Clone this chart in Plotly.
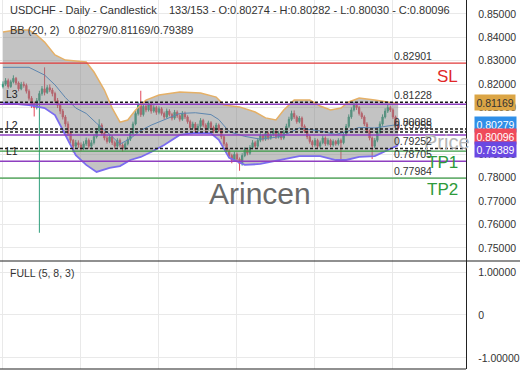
import plotly.graph_objects as go

# ---------------- data ----------------
bars = list(range(153))
open_ = [0.8190,0.8200,0.8215,0.8190,0.8210,0.8225,0.8205,0.8180,0.8200,0.8195,
 0.8170,0.8140,0.8115,0.8100,0.8130,0.8160,0.8180,0.8165,0.8185,0.8175,
 0.8160,0.8130,0.8110,0.8085,0.8060,0.8030,0.7990,0.7960,0.7935,0.7950,
 0.7940,0.7925,0.7945,0.7960,0.7935,0.7950,0.7975,0.8000,0.8025,0.7990,
 0.7970,0.7955,0.7975,0.7950,0.7935,0.7960,0.7940,0.7925,0.7945,0.7965,
 0.7990,0.8030,0.8075,0.8110,0.8070,0.8105,0.8090,0.8115,0.8085,0.8100,
 0.8080,0.8095,0.8075,0.8060,0.8085,0.8070,0.8055,0.8080,0.8065,0.8050,
 0.8075,0.8060,0.8040,0.8015,0.8030,0.8005,0.8020,0.8045,0.8025,0.8010,
 0.8035,0.8015,0.8000,0.8025,0.8005,0.7975,0.7945,0.7915,0.7895,0.7875,
 0.7900,0.7880,0.7860,0.7895,0.7920,0.7905,0.7930,0.7950,0.7935,0.7960,
 0.7980,0.7965,0.7990,0.7970,0.7985,0.8000,0.7975,0.7990,0.7970,0.7995,
 0.8020,0.8050,0.8075,0.8060,0.8040,0.8055,0.8020,0.8000,0.7975,0.7955,
 0.7940,0.7960,0.7935,0.7950,0.7970,0.7945,0.7960,0.7940,0.7955,0.7945,
 0.7960,0.7950,0.7985,0.8020,0.8060,0.8090,0.8110,0.8100,0.8075,0.8060,
 0.8030,0.8000,0.7970,0.7935,0.7960,0.7995,0.8030,0.8060,0.8085,0.8100,
 0.8090,0.8060,0.80274]
high = [0.8212,0.8226,0.8224,0.8219,0.8238,0.8231,0.8212,0.8210,0.8211,0.8203,
 0.8178,0.8149,0.8125,0.8141,0.8172,0.8192,0.8272,0.8196,0.8199,0.8184,
 0.8168,0.8141,0.8118,0.8094,0.8068,0.8041,0.7998,0.7966,0.7962,0.7960,
 0.7951,0.7956,0.7972,0.7968,0.7961,0.7986,0.8012,0.8050,0.8033,0.7998,
 0.7981,0.7985,0.7983,0.7959,0.7969,0.7968,0.7948,0.7954,0.7975,0.7999,
 0.8040,0.8088,0.8125,0.8172,0.8116,0.8114,0.8126,0.8122,0.8110,0.8108,
 0.8105,0.8102,0.8083,0.8096,0.8093,0.8078,0.8090,0.8088,0.8072,0.8085,
 0.8083,0.8067,0.8048,0.8040,0.8038,0.8031,0.8055,0.8052,0.8033,0.8044,
 0.8042,0.8023,0.8035,0.8032,0.8012,0.7983,0.7952,0.7924,0.7903,0.7911,
 0.7908,0.7887,0.7905,0.7930,0.7928,0.7940,0.7961,0.7958,0.7970,0.7991,
 0.7988,0.7999,0.7997,0.7995,0.8011,0.8007,0.7999,0.7997,0.8004,0.8031,
 0.8061,0.8087,0.8088,0.8067,0.8064,0.8062,0.8028,0.8007,0.7983,0.7962,
 0.7970,0.7967,0.7959,0.7980,0.7977,0.7969,0.7967,0.7964,0.7962,0.7969,
 0.7968,0.7995,0.8030,0.8071,0.8101,0.8123,0.8118,0.8107,0.8083,0.8067,
 0.8038,0.8007,0.7977,0.7970,0.8005,0.8041,0.8071,0.8097,0.8113,0.8108,
 0.8097,0.8066,0.80282]
low = [0.8182,0.8193,0.8181,0.8184,0.8203,0.8196,0.8170,0.8174,0.8185,0.8160,
 0.8130,0.8098,0.8062,0.8092,0.7565,0.8151,0.8152,0.8158,0.8166,0.8148,
 0.8121,0.8098,0.8072,0.8049,0.8018,0.7978,0.7948,0.7908,0.7925,0.7928,
 0.7915,0.7918,0.7936,0.7924,0.7927,0.7942,0.7968,0.7992,0.7981,0.7960,
 0.7946,0.7948,0.7940,0.7924,0.7929,0.7930,0.7912,0.7918,0.7938,0.7957,
 0.7983,0.8024,0.8066,0.8060,0.8062,0.8080,0.8083,0.8074,0.8078,0.8069,
 0.8071,0.8066,0.8050,0.8054,0.8062,0.8045,0.8048,0.8056,0.8040,0.8043,
 0.8051,0.8031,0.8005,0.8008,0.7994,0.7998,0.8013,0.8016,0.8000,0.8003,
 0.8006,0.7990,0.7993,0.7996,0.7965,0.7935,0.7904,0.7884,0.7862,0.7868,
 0.7869,0.7830,0.7852,0.7888,0.7896,0.7898,0.7922,0.7926,0.7928,0.7952,
 0.7956,0.7958,0.7961,0.7963,0.7977,0.7966,0.7968,0.7961,0.7963,0.7988,
 0.8012,0.8043,0.8051,0.8031,0.8033,0.8011,0.7991,0.7965,0.7946,0.7930,
 0.7933,0.7925,0.7927,0.7943,0.7936,0.7938,0.7931,0.7933,0.7937,0.7938,
 0.7875,0.7943,0.7978,0.8013,0.8052,0.8083,0.8090,0.8066,0.8051,0.8021,
 0.7990,0.7960,0.7880,0.7927,0.7952,0.7988,0.8022,0.8053,0.8077,0.8081,
 0.8051,0.8018,0.80030]
close = [0.8200,0.8215,0.8190,0.8210,0.8225,0.8205,0.8180,0.8200,0.8195,0.8170,
 0.8140,0.8115,0.8100,0.8130,0.8160,0.8180,0.8165,0.8185,0.8175,0.8160,
 0.8130,0.8110,0.8085,0.8060,0.8030,0.7990,0.7960,0.7935,0.7950,0.7940,
 0.7925,0.7945,0.7960,0.7935,0.7950,0.7975,0.8000,0.8025,0.7990,0.7970,
 0.7955,0.7975,0.7950,0.7935,0.7960,0.7940,0.7925,0.7945,0.7965,0.7990,
 0.8030,0.8075,0.8110,0.8070,0.8105,0.8090,0.8115,0.8085,0.8100,0.8080,
 0.8095,0.8075,0.8060,0.8085,0.8070,0.8055,0.8080,0.8065,0.8050,0.8075,
 0.8060,0.8040,0.8015,0.8030,0.8005,0.8020,0.8045,0.8025,0.8010,0.8035,
 0.8015,0.8000,0.8025,0.8005,0.7975,0.7945,0.7915,0.7895,0.7875,0.7900,
 0.7880,0.7860,0.7895,0.7920,0.7905,0.7930,0.7950,0.7935,0.7960,0.7980,
 0.7965,0.7990,0.7970,0.7985,0.8000,0.7975,0.7990,0.7970,0.7995,0.8020,
 0.8050,0.8075,0.8060,0.8040,0.8055,0.8020,0.8000,0.7975,0.7955,0.7940,
 0.7960,0.7935,0.7950,0.7970,0.7945,0.7960,0.7940,0.7955,0.7945,0.7960,
 0.7950,0.7985,0.8020,0.8060,0.8090,0.8110,0.8100,0.8075,0.8060,0.8030,
 0.8000,0.7970,0.7935,0.7960,0.7995,0.8030,0.8060,0.8085,0.8100,0.8090,
 0.8060,0.8027,0.80096]

bb_upper_bar = [0, 5, 10, 13, 16, 20, 24, 28, 32, 35, 39, 42, 45, 48, 51, 55, 60, 68, 76, 82,
                85, 91, 97, 101, 105, 108, 112, 118, 122, 126, 130, 133, 137, 143, 152]
bb_upper = [0.8423, 0.8432, 0.8432, 0.8410, 0.8380, 0.8325, 0.8303, 0.8299, 0.8295, 0.8252,
            0.8175, 0.8098, 0.8038, 0.8047, 0.8090, 0.8132, 0.8154, 0.8167, 0.8162, 0.8145,
            0.8111, 0.8103, 0.8081, 0.8056, 0.8047, 0.8090, 0.8132, 0.8132, 0.8107, 0.8090,
            0.8098, 0.8124, 0.8141, 0.8132, 0.81169]
bb_lower_bar = [0, 10, 16, 20, 24, 28, 32, 36, 41, 45, 49, 53, 57, 62, 68, 74, 80, 83, 87, 93,
                99, 107, 114, 122, 128, 132, 137, 143, 152]
bb_lower = [0.8120, 0.8111, 0.8098, 0.8068, 0.7983, 0.7897, 0.7855, 0.7825, 0.7842, 0.7850,
            0.7876, 0.7889, 0.7910, 0.7940, 0.7983, 0.7992, 0.7990, 0.7962, 0.7885, 0.7855,
            0.7859, 0.7876, 0.7893, 0.7893, 0.7876, 0.7876, 0.7889, 0.7893, 0.79389]
bb_mid_bar = bb_lower_bar
bb_mid = [0.8272, 0.8272, 0.8239, 0.8197, 0.8143, 0.8098, 0.8075, 0.8033, 0.7986, 0.7944,
          0.7968, 0.8002, 0.8025, 0.8049, 0.8075, 0.8078, 0.8070, 0.8049, 0.7997, 0.7977,
          0.7965, 0.7976, 0.8013, 0.8000, 0.7985, 0.7997, 0.8015, 0.8013, 0.80279]

level_values = [0.82901, 0.81228, 0.80088, 0.79955, 0.79252, 0.78705, 0.77984]
dashed_levels = [0.81228, 0.80088, 0.79955, 0.79252]
pivot_names = ["L3", "L2", "L1"]
pivot_levels = [0.8114, 0.7983, 0.78705]
sl_level = 0.82901
tp_names = ["TP1", "TP2"]
tp_levels = [0.7914, 0.77984]

price_ticks = [0.75, 0.76, 0.77, 0.78, 0.79, 0.80, 0.81, 0.82, 0.83, 0.84, 0.85]
osc_ticks = [-1, 0, 1]
osc_ticktext = ["-1.00000", "0", "1.00000"]
grid_bars = [0, 30, 60, 90, 120, 150]

last_values = [0.81169, 0.80279, 0.80096, 0.79389]   # BB upper, BB mid, close, BB lower

header1 = "USDCHF - Daily - Candlestick    133/153 - O:0.80274 - H:0.80282 - L:0.80030 - C:0.80096"
header2 = "BB (20, 2)   0.80279/0.81169/0.79389"
osc_title = "FULL (5, 8, 3)"

# ---------------- figure ----------------
FONT = "Liberation Sans, Arial, sans-serif"
fig = go.Figure()

# BB band fill
fig.add_trace(go.Scatter(
    x=bb_upper_bar + bb_lower_bar[::-1], y=bb_upper + bb_lower[::-1],
    fill="toself", fillcolor="rgba(130,130,130,0.48)", mode="none",
    hoverinfo="skip", showlegend=False, xaxis="x", yaxis="y"))
fig.add_trace(go.Scatter(x=bb_mid_bar, y=bb_mid, mode="lines",
                         line=dict(color="#5d86b0", width=1), showlegend=False,
                         hoverinfo="skip", xaxis="x", yaxis="y"))
fig.add_trace(go.Scatter(x=bb_upper_bar, y=bb_upper, mode="lines",
                         line=dict(color="#e5b067", width=1.5), showlegend=False,
                         hoverinfo="skip", xaxis="x", yaxis="y"))
fig.add_trace(go.Scatter(x=bb_lower_bar, y=bb_lower, mode="lines",
                         line=dict(color="#7b6cf0", width=1.8), showlegend=False,
                         hoverinfo="skip", xaxis="x", yaxis="y"))

fig.add_trace(go.Candlestick(
    x=bars, open=open_, high=high, low=low, close=close,
    increasing=dict(line=dict(color="#2f9f7d", width=1), fillcolor="#2f9f7d"),
    decreasing=dict(line=dict(color="#e2485a", width=1), fillcolor="#e2485a"),
    whiskerwidth=0, showlegend=False, xaxis="x", yaxis="y"))

# empty oscillator panel
fig.add_trace(go.Scatter(x=[None], y=[None], mode="lines", showlegend=False,
                         xaxis="x2", yaxis="y2"))

shapes = []
shapes.append(dict(type="line", xref="paper", x0=0, x1=1, yref="y", y0=sl_level, y1=sl_level,
                   line=dict(color="#e03a3a", width=1.2)))
for v in dashed_levels:
    shapes.append(dict(type="line", xref="paper", x0=0, x1=1, yref="y", y0=v, y1=v,
                       line=dict(color="#1a1a1a", width=1.5, dash="3px,2px")))
for v in pivot_levels:
    shapes.append(dict(type="line", xref="paper", x0=0, x1=1, yref="y", y0=v, y1=v,
                       line=dict(color="#8e3fc0", width=1.5)))
for v in tp_levels:
    shapes.append(dict(type="line", xref="paper", x0=0, x1=1, yref="y", y0=v, y1=v,
                       line=dict(color="#3a9a45", width=1.3)))
# panel separator / box
shapes.append(dict(type="line", xref="paper", x0=0, x1=1.116, yref="paper", y0=0.2927, y1=0.2927,
                   line=dict(color="#222", width=1.2)))
shapes.append(dict(type="line", xref="paper", x0=0, x1=1, yref="paper", y0=0, y1=0,
                   line=dict(color="#222", width=1.2)))

ann = []
ann.append(dict(xref="paper", yref="paper", x=0.017, y=0.973, text=header1, showarrow=False,
                xanchor="left", yanchor="middle", font=dict(size=11, color="#333", family=FONT)))
ann.append(dict(xref="paper", yref="paper", x=0.017, y=0.919, text=header2, showarrow=False,
                xanchor="left", yanchor="middle", font=dict(size=11, color="#333", family=FONT)))
ann.append(dict(xref="paper", yref="paper", x=0.017, y=0.260, text=osc_title, showarrow=False,
                xanchor="left", yanchor="middle", font=dict(size=10.5, color="#333", family=FONT)))

# large grey "Price" tag drawn first so the level labels sit on top of it
ann.append(dict(xref="paper", yref="y", x=0.906, y=0.7953, text="Price", showarrow=False,
                xanchor="left", yanchor="middle",
                font=dict(size=20, color="#b4b4b4", family=FONT)))

for v in level_values:
    ann.append(dict(xref="x", yref="y", x=149.5, y=v, text=f"{v:.5f}", showarrow=False,
                    xanchor="left", yanchor="bottom", yshift=-1,
                    font=dict(size=10.5, color="#333", family=FONT)))
for name, v in zip(pivot_names, pivot_levels):
    ann.append(dict(xref="paper", yref="y", x=0.008, y=v, text=name, showarrow=False,
                    xanchor="left", yanchor="bottom", yshift=2,
                    font=dict(size=10.5, color="#222", family=FONT)))
ann.append(dict(xref="paper", yref="y", x=0.988, y=sl_level, text="SL", showarrow=False,
                xanchor="right", yanchor="top", yshift=-2,
                font=dict(size=17, color="#e02828", family=FONT)))
for name, v in zip(tp_names, tp_levels):
    ann.append(dict(xref="paper", yref="y", x=0.988, y=v, text=name, showarrow=False,
                    xanchor="right", yanchor="top", yshift=0,
                    font=dict(size=17, color="#2e9a3a", family=FONT)))
ann.append(dict(xref="paper", yref="y", x=0.558, y=0.7735, text="Arincen", showarrow=False,
                xanchor="center", yanchor="middle",
                font=dict(size=30, color="#6a6a6a", family=FONT)))

box_colors = ["#dba545", "#2f8fe8", "#ef4a5a", "#6a48e2"]
box_text = ["#333", "#fff", "#fff", "#fff"]
box_shift = [1, 0, -8, -4]
for v, bc, tc, sh in zip(last_values, box_colors, box_text, box_shift):
    ann.append(dict(xref="paper", yref="y", x=1.0, y=v, text=f"{v:.5f}", showarrow=False,
                    xanchor="left", yanchor="middle", xshift=8, yshift=sh,
                    bgcolor=bc, borderpad=1.5,
                    font=dict(size=10.5, color=tc, family=FONT)))

GRID = "#e9e9e9"
fig.update_layout(
    width=520, height=390,
    margin=dict(l=0, r=54, t=0, b=21),
    paper_bgcolor="white", plot_bgcolor="white",
    font=dict(family=FONT, size=10.5, color="#333"),
    showlegend=False,
    xaxis=dict(domain=[0, 1], range=[-1.15, 178.1], anchor="y", tickvals=grid_bars,
               showticklabels=False, showgrid=True, gridcolor=GRID, zeroline=False,
               rangeslider=dict(visible=False), fixedrange=True),
    xaxis2=dict(domain=[0, 1], range=[-1.15, 178.1], anchor="y2", tickvals=grid_bars,
                showticklabels=False, showgrid=True, gridcolor=GRID, zeroline=False),
    yaxis=dict(domain=[0.2927, 1], range=[0.74444, 0.85598], anchor="x", side="right",
               tickvals=price_ticks, ticktext=[f"{t:.5f}" for t in price_ticks],
               showgrid=True, gridcolor=GRID, zeroline=False,
               showline=True, linecolor="#222", linewidth=1.2, ticks="", ticklabelstandoff=9,
               tickfont=dict(size=10.5, color="#333")),
    yaxis2=dict(domain=[0, 0.2927], range=[-1.256, 1.256], anchor="x2", side="right",
                tickvals=osc_ticks, ticktext=osc_ticktext,
                showgrid=True, gridcolor=GRID, zeroline=False,
                showline=True, linecolor="#222", linewidth=1.2, ticks="", ticklabelstandoff=9,
                tickfont=dict(size=10.5, color="#333")),
    shapes=shapes, annotations=ann,
)

fig.write_html("out.html")
